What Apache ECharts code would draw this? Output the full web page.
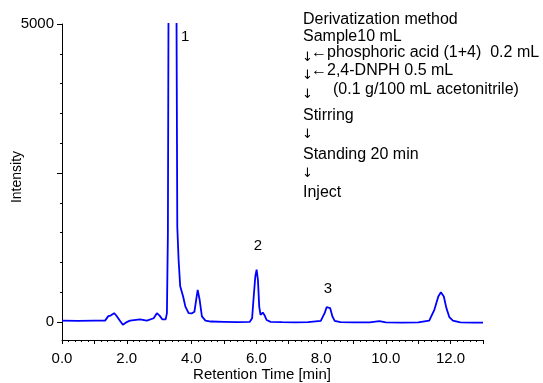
<!DOCTYPE html>
<html>
<head>
<meta charset="utf-8">
<script src="https://cdn.jsdelivr.net/npm/echarts@6/dist/echarts.min.js"></script>
<style>html,body{margin:0;padding:0;background:#fff;}#c{width:543px;height:383px;}</style>
</head>
<body>
<div id="c"></div>
<script>
// Retention time (min) and intensity
const times = [0.00,0.50,1.00,1.33,1.43,1.50,1.61,1.67,1.80,1.88,1.98,2.10,2.41,2.62,2.83,2.93,3.02,3.10,3.20,3.24,3.27,3.29,3.33,3.40,3.47,3.53,3.56,3.60,3.65,3.74,3.81,3.91,4.00,4.09,4.15,4.19,4.25,4.32,4.43,4.60,5.00,5.40,5.80,5.87,5.92,5.97,6.01,6.05,6.09,6.13,6.20,6.25,6.32,6.44,6.80,7.20,7.60,7.99,8.11,8.17,8.22,8.28,8.35,8.42,8.60,9.00,9.50,9.80,10.00,10.50,11.00,11.34,11.50,11.62,11.70,11.79,11.87,11.96,12.07,12.30,12.70,13.00];
const intensity = [25,22,25,25,100,110,150,115,15,-45,-5,25,45,25,65,150,105,45,45,150,1500,5500,15000,22000,15000,6000,1600,1050,600,430,260,150,145,175,400,540,375,95,25,10,5,0,5,65,430,770,880,710,260,120,160,120,35,5,0,-5,0,20,150,250,280,235,95,20,0,-5,-5,15,-5,-10,-5,25,210,430,500,430,235,85,25,-5,-10,-10];

const xTicks = {min: 0, max: 13, interval: 1};
const xLabelEvery = 2;
const yMin = -300, yMax = 5000;
const yTickValues = [0,500,1000,1500,2000,2500,3000,3500,4000,4500,5000];
const yMajorTicks = [0,2500,5000];
const yLabelValues = [0,5000];

const peakNames = ['1','2','3'];
const peakLabelTime = [3.80, 6.05, 8.21];
const peakLabelY = [4790, 1272, 557];

const methodLines = [
  'Derivatization method',
  'Sample10 mL',
  '←phosphoric acid (1+4)  0.2 mL',
  '←2,4-DNPH 0.5 mL',
  '(0.1 g/100 mL acetonitrile)',
  'Stirring',
  '↓',
  'Standing 20 min',
  '↓',
  'Inject'
];

const FONT = "'Liberation Sans', Arial, sans-serif";
const ARROWFONT = "'DejaVu Sans', sans-serif";
const FS = 15;
const AFS = 16;

const seriesData = times.map((t, i) => [t, intensity[i]]);
const markData = peakNames.map((n, i) => ({name: n, coord: [peakLabelTime[i], peakLabelY[i]]}));

function txt(text, x, y, size, fam) {
  return {type: 'text', x: x, y: y, silent: true,
    style: {text: text, fill: '#000', fontSize: size || AFS, fontFamily: fam || FONT, verticalAlign: 'middle', align: 'left'}};
}
function arrow(x, y) { return txt('↓', x, y, 13, ARROWFONT); }
const graphics = [
  txt(methodLines[0], 303, 20),
  txt(methodLines[1], 303, 37),
  arrow(302, 58), txt(methodLines[2], 311, 53),
  arrow(302, 76), txt(methodLines[3], 311, 71),
  arrow(302, 95), txt(methodLines[4], 333, 90),
  txt(methodLines[5], 303, 116),
  arrow(302, 135),
  txt(methodLines[7], 303, 155),
  arrow(302, 174),
  txt(methodLines[9], 303, 193)
];

const chart = echarts.init(document.getElementById('c'), null, {renderer: 'canvas'});
chart.setOption({
  animation: false,
  backgroundColor: '#fff',
  textStyle: {fontFamily: FONT},
  grid: {left: 62, right: 60, top: 24, bottom: 43, containLabel: false, outerBoundsMode: 'none'},
  xAxis: {
    type: 'value', min: xTicks.min, max: xTicks.max, interval: xTicks.interval,
    axisLine: {show: true, onZero: false, lineStyle: {color: '#000', width: 1}},
    axisTick: {show: true, inside: false, length: 4, lineStyle: {color: '#000'}},
    minorTick: {show: true, splitNumber: 5, length: 2, lineStyle: {color: '#000'}},
    splitLine: {show: false},
    axisLabel: {color: '#000', fontSize: FS, fontFamily: FONT, margin: 11,
      formatter: v => (Math.round(v) % xLabelEvery === 0 ? v.toFixed(1) : '')},
    name: 'Retention Time [min]', nameLocation: 'middle', nameGap: 27, nameMoveOverlap: false,
    nameTextStyle: {color: '#000', fontSize: FS, fontFamily: FONT, padding: [0, 21, 0, 0]}
  },
  yAxis: [{
    type: 'value', min: yMin, max: yMax,
    axisLine: {show: true, onZero: false, lineStyle: {color: '#000', width: 1}},
    axisTick: {show: true, inside: false, length: 2, customValues: yTickValues, lineStyle: {color: '#000'}},
    splitLine: {show: false},
    axisLabel: {color: '#000', fontSize: FS, fontFamily: FONT, margin: 8, customValues: yLabelValues,
      formatter: v => String(v)},
    name: 'Intensity', nameLocation: 'middle', nameGap: 38, nameMoveOverlap: false,
    nameTextStyle: {color: '#000', fontSize: 14, fontFamily: FONT, padding: [0, 0, 0, 10]}
  }, {
    type: 'value', min: yMin, max: yMax, position: 'left',
    axisLine: {show: false},
    axisTick: {show: true, inside: false, length: 5, customValues: yMajorTicks, lineStyle: {color: '#000'}},
    splitLine: {show: false},
    axisLabel: {show: false}
  }],
  series: [{
    type: 'line', data: seriesData, showSymbol: false, symbol: 'none', clip: true,
    lineStyle: {color: '#0000ff', width: 1.8},
    markPoint: {
      symbol: 'circle', symbolSize: 0, data: markData,
      label: {show: true, position: 'inside', formatter: p => p.name, color: '#000', fontSize: FS, fontFamily: FONT}
    }
  }],
  graphic: graphics
});
</script>
</body>
</html>
